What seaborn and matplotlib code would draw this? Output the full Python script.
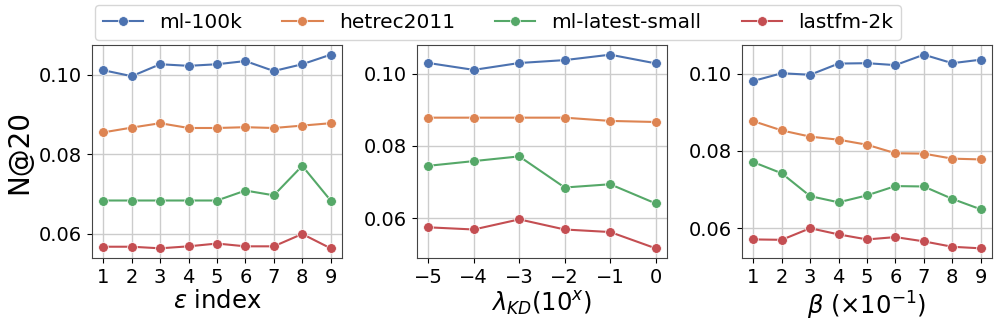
import numpy as np
import pandas as pd
import matplotlib
matplotlib.use("Agg")
import matplotlib.pyplot as plt
import seaborn as sns

series = ["ml-100k", "hetrec2011", "ml-latest-small", "lastfm-2k"]

eps_x = [1, 2, 3, 4, 5, 6, 7, 8, 9]
eps_ml100k = [0.1011, 0.0996, 0.1026, 0.1022, 0.1026, 0.1034, 0.1009, 0.1026, 0.1050]
eps_hetrec = [0.0855, 0.0867, 0.0878, 0.0866, 0.0866, 0.0868, 0.0866, 0.0872, 0.0878]
eps_mlls = [0.0684, 0.0684, 0.0684, 0.0684, 0.0684, 0.0709, 0.0697, 0.0771, 0.0684]
eps_lastfm = [0.0568, 0.0568, 0.0564, 0.0569, 0.0576, 0.0569, 0.0569, 0.0600, 0.0564]

lam_x = [-5, -4, -3, -2, -1, 0]
lam_ml100k = [0.1029, 0.1010, 0.1029, 0.1037, 0.1052, 0.1028]
lam_hetrec = [0.0878, 0.0878, 0.0878, 0.0878, 0.0869, 0.0866]
lam_mlls = [0.0745, 0.0758, 0.0771, 0.0685, 0.0694, 0.0641]
lam_lastfm = [0.0575, 0.0569, 0.0597, 0.0569, 0.0562, 0.0517]

beta_x = [1, 2, 3, 4, 5, 6, 7, 8, 9]
beta_ml100k = [0.0981, 0.1001, 0.0997, 0.1026, 0.1027, 0.1022, 0.1049, 0.1027, 0.1036]
beta_hetrec = [0.0877, 0.0853, 0.0837, 0.0829, 0.0816, 0.0794, 0.0793, 0.0780, 0.0778]
beta_mlls = [0.0771, 0.0742, 0.0683, 0.0667, 0.0685, 0.0709, 0.0708, 0.0676, 0.0649]
beta_lastfm = [0.0571, 0.0570, 0.0600, 0.0584, 0.0571, 0.0577, 0.0566, 0.0552, 0.0548]

xlabels = [r"$\varepsilon$ index", r"$\lambda_{KD}(10^x)$", r"$\beta$ ($\times 10^{-1}$)"]
ylabel = "N@20"


def make_df(x, a, b, c, d):
    rows = []
    for name, vals in zip(series, [a, b, c, d]):
        for xi, v in zip(x, vals):
            rows.append({"x": xi, "y": v, "dataset": name})
    return pd.DataFrame(rows)


dfs = [
    make_df(eps_x, eps_ml100k, eps_hetrec, eps_mlls, eps_lastfm),
    make_df(lam_x, lam_ml100k, lam_hetrec, lam_mlls, lam_lastfm),
    make_df(beta_x, beta_ml100k, beta_hetrec, beta_mlls, beta_lastfm),
]
xticks = [eps_x, lam_x, beta_x]

plt.rcParams["font.family"] = ["DejaVu Sans"]
palette = sns.color_palette("deep", 4)

fig = plt.figure(figsize=(9.96, 3.26), dpi=100)
W, H = 996, 326
lefts = [92, 417, 742]
aw, top, bot = 250, 45, 258
axes = []
for i in range(3):
    ax = fig.add_axes([lefts[i] / W, (H - bot) / H, aw / W, (bot - top) / H])
    sns.lineplot(data=dfs[i], x="x", y="y", hue="dataset", hue_order=series,
                 palette=palette, marker="o", markersize=7, linewidth=1.5,
                 markeredgewidth=0.5, ax=ax, legend=(i == 0))
    ax.grid(True, color="#cccccc", linewidth=1.0)
    ax.set_axisbelow(True)
    ax.set_xticks(xticks[i])
    ax.set_yticks([0.06, 0.08, 0.10])
    ax.set_yticklabels(["0.06", "0.08", "0.10"])
    ax.tick_params(labelsize=14)
    ax.set_xlabel(xlabels[i], fontsize=17.5, labelpad=2)
    ax.set_ylabel("")
    for s in ax.spines.values():
        s.set_color("#444444")
    axes.append(ax)

axes[0].set_ylabel(ylabel, fontsize=20, labelpad=4)
handles, labels = axes[0].get_legend_handles_labels()
axes[0].get_legend().remove()
fig.legend(handles, labels, loc="upper center", bbox_to_anchor=(0.5, 1.015), ncol=4,
           fontsize=14.5, frameon=True, handlelength=2.0, columnspacing=2.0,
           borderpad=0.4)

fig.savefig("out.png", dpi=100)
